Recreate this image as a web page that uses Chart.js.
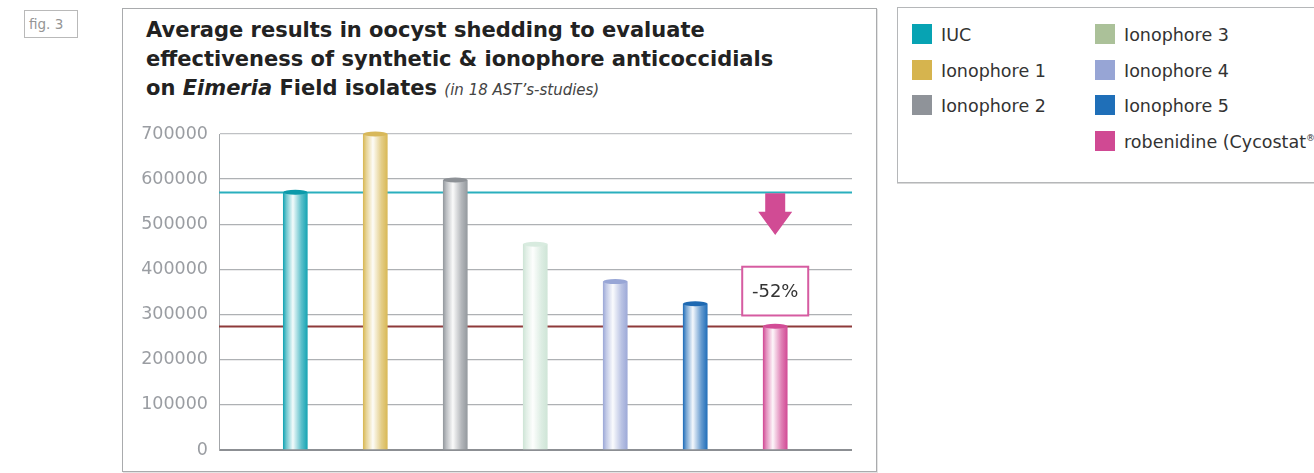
<!DOCTYPE html>
<html>
<head>
<meta charset="utf-8">
<script src="https://cdn.jsdelivr.net/npm/chart.js@4/dist/chart.umd.min.js"></script>
<style>
  html, body { margin: 0; padding: 0; background: #fff; overflow: hidden; }
  body { width: 1314px; height: 473px; position: relative; font-family: 'DejaVu Sans', Verdana, sans-serif; }
  .fig { position: absolute; left: 24px; top: 10px; width: 54px; height: 28px; border: 1px solid #b9b9b9;
         box-sizing: border-box; color: #959595; font-size: 13.5px; line-height: 26px; padding-left: 4px; }
  .box { position: absolute; left: 122px; top: 8px; width: 755px; height: 464px; border: 1px solid #a9abad;
         box-sizing: border-box; box-shadow: 1px 1px 0 #e4e4e4; }
  .title { position: absolute; left: 146px; top: 15.5px; font-size: 21px; font-weight: bold; line-height: 29px; color: #222; }
  .title .sub { font-size: 15px; font-weight: normal; font-style: italic; color: #444; }
  #chart { position: absolute; left: 123px; top: 9px; }
  .legend { position: absolute; left: 897px; top: 7px; width: 440px; height: 176px; border: 1px solid #b5b7b9;
            box-sizing: border-box; box-shadow: 0 1px 0 #d8d8d8; }
  .item { position: absolute; font-size: 17.5px; color: #333; white-space: nowrap; line-height: 23px; }
  .item i { position: absolute; left: -29px; top: 0; width: 20px; height: 20px; }
  .item sup { font-size: 9px; line-height: 0; vertical-align: 7px; }
</style>
</head>
<body>
<div class="fig">fig. 3</div>
<div class="box"></div>
<div class="title">Average results in oocyst shedding to evaluate<br>effectiveness of synthetic &amp; ionophore anticoccidials<br>on <i>Eimeria</i> Field isolates <span class="sub">(in 18 AST’s-studies)</span></div>
<canvas id="chart" width="753" height="463"></canvas>
<div class="legend" id="legend"></div>
<script>
'use strict';

// --- data ---
const categories = ['IUC', 'Ionophore 1', 'Ionophore 2', 'Ionophore 3', 'Ionophore 4', 'Ionophore 5', 'robenidine (Cycostat®)'];
const shedding = [571000, 700000, 598000, 456000, 373000, 324000, 274000];
const legendColors = ['#07a3b3', '#d6b44e', '#8f9399', '#abc199', '#97a5d5', '#1f6fb8', '#d04993'];
const barColors = ['#18a5b4', '#d9b957', '#959a9f', '#cfe5d7', '#9eaad8', '#2470ba', '#d24c96'];
const capColors = ['#0b9aaa', '#d8b85a', '#8d9196', '#d8ebdf', '#98a6d6', '#1e69b2', '#d24c96'];
const yTicks = [0, 100000, 200000, 300000, 400000, 500000, 600000, 700000];

// --- legend (html, two columns) ---
const legendEl = document.getElementById('legend');
categories.forEach((name, i) => {
  const col = i < 3 ? 0 : 1;
  const row = i < 3 ? i : i - 3;
  const d = document.createElement('div');
  d.className = 'item';
  d.style.left = (col === 0 ? 43 : 226) + 'px';
  d.style.top = (16 + row * 35.7) + 'px';
  const label = name.replace('®', '<sup>®</sup>');
  d.innerHTML = '<i style="background:' + legendColors[i] + '"></i>' + label;
  legendEl.appendChild(d);
});

function mix(hex, t) {
  // blend colour towards white by t
  const n = parseInt(hex.slice(1), 16);
  const r = n >> 16, g = (n >> 8) & 255, b = n & 255;
  const f = v => Math.round(v + (255 - v) * t);
  return 'rgb(' + f(r) + ',' + f(g) + ',' + f(b) + ')';
}

function cylinder(c) {
  const i = c.dataIndex;
  const chart = c.chart;
  if (!chart.chartArea || i == null) return barColors[i || 0];
  const cx = chart.scales.x.getPixelForValue(i);
  const g = chart.ctx.createLinearGradient(cx - 12, 0, cx + 12, 0);
  const col = barColors[i];
  g.addColorStop(0, col);
  g.addColorStop(0.12, mix(col, 0.35));
  g.addColorStop(0.4, mix(col, 0.95));
  g.addColorStop(0.75, mix(col, 0.3));
  g.addColorStop(1, col);
  return g;
}

// reference lines, arrow and the -52% box
const decor = {
  id: 'decor',
  beforeDatasetsDraw(chart) {
    const { ctx, chartArea: a, scales: { y } } = chart;
    const lines = [[shedding[0], '#2aafbe'], [shedding[shedding.length - 1], '#8e3a3a']];
    ctx.save();
    ctx.lineWidth = 2;
    lines.forEach(([v, col]) => {
      const py = Math.round(y.getPixelForValue(v)) + 0.5;
      ctx.strokeStyle = col;
      ctx.beginPath();
      ctx.moveTo(a.left, py);
      ctx.lineTo(a.right, py);
      ctx.stroke();
    });
    ctx.restore();
  },
  afterDatasetsDraw(chart) {
    const { ctx, scales: { x, y } } = chart;
    const meta = chart.getDatasetMeta(0);
    ctx.save();
    meta.data.forEach((bar, i) => {
      ctx.fillStyle = capColors[i];
      ctx.beginPath();
      ctx.ellipse(bar.x, bar.y, bar.width / 2, 2.5, 0, 0, Math.PI * 2);
      ctx.fill();
    });

    const last = shedding.length - 1;
    const cx = x.getPixelForValue(last);
    const top = y.getPixelForValue(shedding[0]) + 1;
    const neck = y.getPixelForValue(528000);
    const tip = y.getPixelForValue(476000);
    ctx.fillStyle = '#d14b94';
    ctx.beginPath();
    ctx.moveTo(cx - 10, top);
    ctx.lineTo(cx + 10, top);
    ctx.lineTo(cx + 10, neck);
    ctx.lineTo(cx + 17, neck);
    ctx.lineTo(cx, tip);
    ctx.lineTo(cx - 17, neck);
    ctx.lineTo(cx - 10, neck);
    ctx.closePath();
    ctx.fill();

    const bTop = y.getPixelForValue(406000);
    const bBot = y.getPixelForValue(298000);
    ctx.fillStyle = '#fff';
    ctx.fillRect(cx - 33, bTop, 66, bBot - bTop);
    ctx.strokeStyle = '#d65ca1';
    ctx.lineWidth = 2;
    ctx.strokeRect(cx - 33, bTop, 66, bBot - bTop);
    const pct = Math.round((shedding[last] / shedding[0] - 1) * 100);
    ctx.fillStyle = '#333';
    ctx.font = '18px "DejaVu Sans"';
    ctx.textAlign = 'center';
    ctx.textBaseline = 'middle';
    ctx.fillText(pct + '%', cx, (bTop + bBot) / 2 + 1);
    ctx.restore();
  }
};

new Chart(document.getElementById('chart'), {
  type: 'bar',
  data: {
    datasets: [{
      label: 'Oocyst shedding',
      data: shedding.map((v, i) => ({ x: i, y: v })),
      backgroundColor: cylinder,
      borderWidth: 0,
      barThickness: 24,
    }]
  },
  options: {
    responsive: false,
    animation: false,
    layout: { padding: { left: 0, top: 125, right: 24, bottom: 22 } },
    plugins: {
      legend: { display: false },
      tooltip: { enabled: false }
    },
    scales: {
      x: {
        type: 'linear',
        display: false,
        offset: false,
        min: -0.954,
        max: 6.96,
      },
      y: {
        min: 0,
        max: 700000,
        afterBuildTicks: s => { s.ticks = yTicks.map(v => ({ value: v })); },
        afterFit: s => { s.width = 96; },
        ticks: {
          color: '#9a9da2',
          padding: 11,
          font: { size: 17.5, family: 'DejaVu Sans' },
          callback: v => String(v)
        },
        grid: {
          drawTicks: false,
          color: c => c.index === 0 ? '#8c8f93' : (c.tick.value === 700000 ? '#bfc1c4' : '#aeb1b4'),
          lineWidth: c => c.index === 0 ? 2 : 1.3
        },
        border: { display: true, color: '#a3a6a9', width: 1 }
      }
    }
  },
  plugins: [decor]
});
</script>
</body>
</html>
